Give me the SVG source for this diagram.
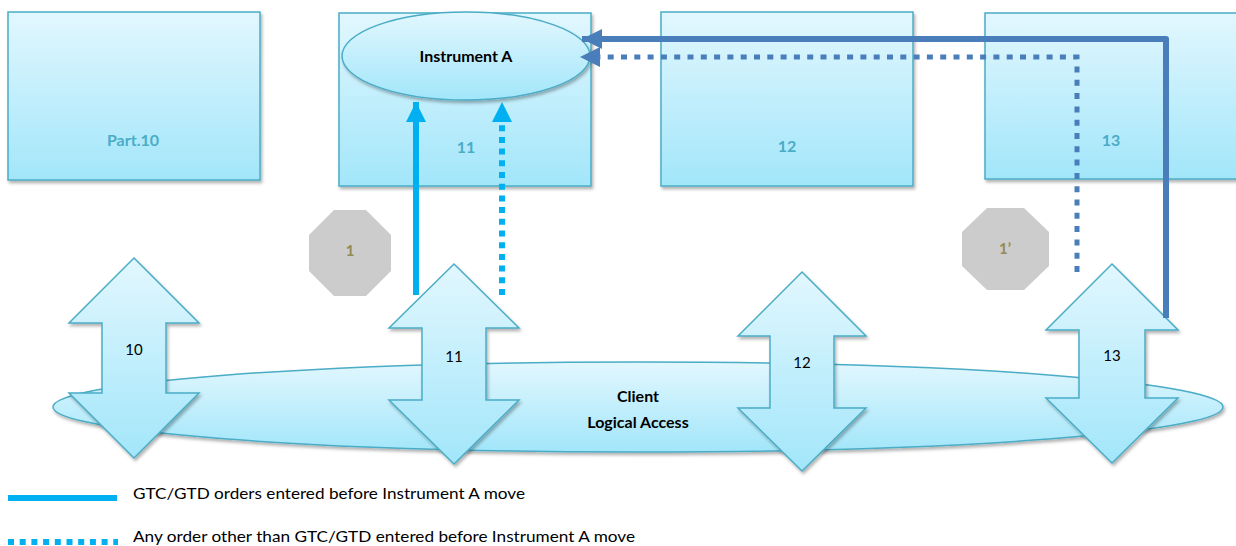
<svg xmlns="http://www.w3.org/2000/svg" width="1236" height="546" viewBox="0 0 1236 546">
<defs>
<linearGradient id="g" x1="0" y1="0" x2="0" y2="1">
<stop offset="0" stop-color="#E2F7FE"/>
<stop offset="1" stop-color="#A2E6FA"/>
</linearGradient>
<filter id="sh" x="-10%" y="-10%" width="120%" height="130%">
<feDropShadow dx="1.5" dy="2.5" stdDeviation="1.5" flood-color="#000" flood-opacity="0.3"/>
</filter>
<marker id="ah1" markerUnits="userSpaceOnUse" markerWidth="22" markerHeight="22" refX="20" refY="10" orient="auto">
<path d="M0,0 L20,10 L0,20 Z" fill="#00B0F0"/>
</marker>
<marker id="ah2" markerUnits="userSpaceOnUse" markerWidth="22" markerHeight="22" refX="20" refY="10" orient="auto">
<path d="M0,0 L20,10 L0,20 Z" fill="#4A7EBB"/>
</marker>
</defs>
<style>
.sh{fill:url(#g);stroke:#4BACC6;stroke-width:1.5;filter:url(#sh)}
.bl{font-family:Lato,"Liberation Sans",sans-serif;font-weight:bold;font-size:16px;fill:#4BACC6;text-anchor:middle}
.tb{font-family:Lato,"Liberation Sans",sans-serif;font-weight:bold;font-size:16px;fill:#000;text-anchor:middle}
.tn{font-family:Lato,"Liberation Sans",sans-serif;font-size:15px;fill:#000;text-anchor:middle}
.oct{fill:#CCCCCC}
.ot{font-family:Lato,"Liberation Sans",sans-serif;font-weight:bold;font-size:15px;fill:#948A54;text-anchor:middle}
.lg{font-family:Lato,"Liberation Sans",sans-serif;font-size:16px;fill:#000}
.c1{fill:none;stroke:#00B0F0;stroke-width:6}
.c1d{fill:none;stroke:#00B0F0;stroke-width:6;stroke-dasharray:6 5.7}
.c2{fill:none;stroke:#4A7EBB;stroke-width:6;stroke-linejoin:round}
.c2d{fill:none;stroke:#4A7EBB;stroke-width:5;stroke-dasharray:6 7.3}
</style>
<g id="part10"><rect class="sh" x="8" y="12" width="252" height="168"/><text class="bl" x="133" y="146">Part.10</text></g>
<g id="part11"><rect class="sh" x="339" y="13" width="252" height="173"/><text class="bl" x="466" y="153">11</text></g>
<g id="part12"><rect class="sh" x="661" y="12" width="252" height="174"/><text class="bl" x="787" y="152">12</text></g>
<g id="part13"><rect class="sh" x="985" y="13" width="260" height="166"/><text class="bl" x="1111" y="146">13</text></g>
<g id="instrumentA"><ellipse class="sh" cx="466" cy="56" rx="124" ry="44"/><text class="tb" x="466" y="62">Instrument A</text></g>
<g id="oct1"><polygon class="oct" points="334,210 366,210 391,235 391,271 366,296 334,296 309,271 309,235"/><text class="ot" x="350" y="256">1</text></g>
<g id="oct1p"><polygon class="oct" points="987,208 1024,208 1049,232 1049,266 1024,290 987,290 962,266 962,232"/><text class="ot" x="1005" y="254">1’</text></g>
<g id="client"><ellipse class="sh" cx="638" cy="407" rx="585" ry="45"/><text class="tb" x="638" y="402">Client</text><text class="tb" x="638" y="428">Logical Access</text></g>
<g id="arrow10"><polygon class="sh" points="134,258 199,323 166,323 166,393 199,393 134,458 69,393 102,393 102,323 69,323"/><text class="tn" x="134" y="355">10</text></g>
<g id="arrow11"><polygon class="sh" points="454,264 519,328 486,328 486,400 519,400 454,464 389,400 422,400 422,328 389,328"/><text class="tn" x="454" y="362">11</text></g>
<g id="arrow12"><polygon class="sh" points="802,272 866,336 834,336 834,408 866,408 802,471 738,408 770,408 770,336 738,336"/><text class="tn" x="802" y="368">12</text></g>
<g id="arrow13"><polygon class="sh" points="1112,264 1178,330 1145,330 1145,398 1178,398 1112,463 1046,398 1079,398 1079,330 1046,330"/><text class="tn" x="1112" y="361">13</text></g>
<g id="connectors">
<path class="c1" d="M416,295 L416,102" marker-end="url(#ah1)"/>
<path class="c1d" d="M502,295 L502,122"/>
<path d="M492,122 L502,102 L512,122 Z" fill="#00B0F0"/>
<path class="c2" d="M1166,318 L1166,39 L582,39" marker-end="url(#ah2)"/>
<path class="c2d" d="M1077,272 L1077,57 L600,57"/>
<path d="M600,47 L580,57 L600,67 Z" fill="#4A7EBB"/>
</g>
<g id="legend">
<line class="c1" x1="8" y1="498" x2="117" y2="498"/>
<text class="lg" x="133" y="499" textLength="392" lengthAdjust="spacingAndGlyphs">GTC/GTD orders entered before Instrument A move</text>
<line class="c1d" x1="8" y1="542" x2="118" y2="542"/>
<text class="lg" x="133" y="542" textLength="502" lengthAdjust="spacingAndGlyphs">Any order other than GTC/GTD entered before Instrument A move</text>
</g>
</svg>
